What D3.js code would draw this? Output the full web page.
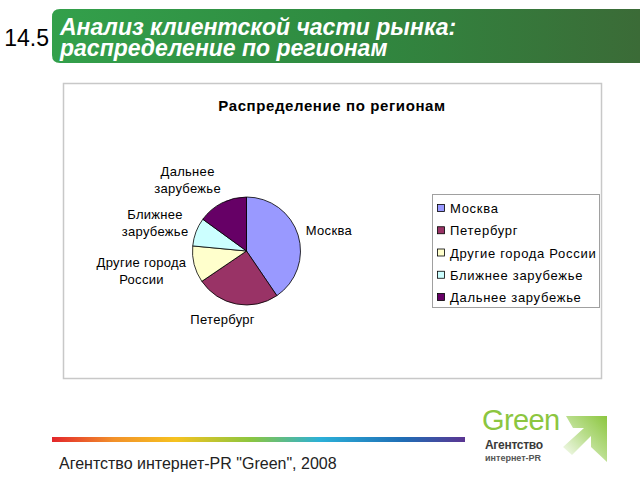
<!DOCTYPE html>
<html><head><meta charset="utf-8">
<script src="https://cdn.jsdelivr.net/npm/d3@7"></script>
<style>html,body{margin:0;padding:0;background:#fff;}svg{display:block;}</style>
</head><body>
<script>
// ---- data ----
const categories = ["Москва", "Петербург", "Другие города России", "Ближнее зарубежье", "Дальнее зарубежье"];
const values = [40.5, 25, 11, 8.5, 15];
const pieLabels = [["Москва"], ["Петербург"], ["Другие города", "России"], ["Ближнее", "зарубежье"], ["Дальнее", "зарубежье"]];
const colors = ["#9999FF", "#993366", "#FFFFCC", "#CCFFFF", "#660066"];
const chartTitle = "Распределение по регионам";
const headerLines = ["Анализ клиентской части рынка:", "распределение по регионам"];
const slideNumber = "14.5";
const footerText = "Агентство интернет-PR \"Green\", 2008";

const W = 640, H = 480;
const svg = d3.select("body").append("svg").attr("width", W).attr("height", H);
const defs = svg.append("defs");
const font = "'Liberation Sans', Arial, sans-serif";

// ---- header ----
const hg = defs.append("linearGradient").attr("id", "hg").attr("x1", 0).attr("x2", 1).attr("y1", 0).attr("y2", 0);
hg.append("stop").attr("offset", 0).attr("stop-color", "#33a04b");
hg.append("stop").attr("offset", 0.5).attr("stop-color", "#2f8a40");
hg.append("stop").attr("offset", 1).attr("stop-color", "#3b6b37");
svg.append("path")
  .attr("d", "M60,9 H640 V63 H60 Q52,63 52,55 V17 Q52,9 60,9 Z")
  .attr("fill", "url(#hg)");
svg.append("text").attr("x", 49).attr("y", 46).attr("text-anchor", "end")
  .attr("font-family", font).attr("font-size", 23).attr("fill", "#000").text(slideNumber);
const ht = svg.append("text")
  .attr("font-family", font).attr("font-size", 23).attr("font-weight", "bold").attr("font-style", "italic")
  .attr("fill", "#fff");
headerLines.forEach((s, i) => ht.append("tspan").attr("x", 60).attr("y", 35 + i * 21).text(s));

// ---- chart frame ----
svg.append("rect").attr("x", 63.5).attr("y", 83.5).attr("width", 538).attr("height", 295)
  .attr("fill", "#fff").attr("stroke", "#c8c8c8").attr("stroke-width", 1.5);
svg.append("text").attr("x", 332).attr("y", 111).attr("text-anchor", "middle")
  .attr("font-family", font).attr("font-size", 15).attr("font-weight", "bold").attr("letter-spacing", 0.6)
  .attr("fill", "#000").text(chartTitle);

// ---- pie ----
const cx = 246.5, cy = 251, R = 54;
const pie = d3.pie().sort(null).value(d => d)(values);
const arc = d3.arc().innerRadius(0).outerRadius(R);
const color = d3.scaleOrdinal().domain(categories).range(colors);
const gp = svg.append("g").attr("transform", `translate(${cx},${cy})`);
gp.selectAll("path").data(pie).join("path")
  .attr("d", arc).attr("fill", (d, i) => color(categories[i]))
  .attr("stroke", "#000").attr("stroke-width", 0.8).attr("stroke-linejoin", "round");

// labels
const LR = 61, lh = 17, fs = 13;
const meas = svg.append("text").attr("font-family", font).attr("font-size", fs).attr("letter-spacing", 0.3).attr("visibility", "hidden");
function tw(s) { meas.text(s); return meas.node().getComputedTextLength(); }
pie.forEach((d, i) => {
  const a = (d.startAngle + d.endAngle) / 2;
  const ux = Math.sin(a), uy = -Math.cos(a);
  const px = cx + LR * ux, py = cy + LR * uy;
  const lines = pieLabels[i];
  const w = d3.max(lines, tw) + 2, h = lines.length * lh;
  const m = Math.max(Math.abs(ux), Math.abs(uy));
  const bx = px + (w / 2) * Math.sign(ux) * Math.min(1, Math.abs(ux) / 0.5);
  const by = py + (h / 2) * uy / m;
  const t = svg.append("text").attr("font-family", font).attr("font-size", fs).attr("fill", "#000")
    .attr("letter-spacing", 0.3).attr("text-anchor", "middle");
  lines.forEach((s, j) => {
    t.append("tspan").attr("x", bx).attr("y", by - h / 2 + lh * j + 13).text(s);
  });
});
meas.remove();

// ---- legend ----
const lg = svg.append("g");
lg.append("rect").attr("x", 432.5).attr("y", 194.5).attr("width", 167).attr("height", 113)
  .attr("fill", "#fff").attr("stroke", "#a0a0a0").attr("stroke-width", 1);
const ly = d3.scalePoint().domain(categories).range([208, 297]);
const items = lg.selectAll("g.it").data(categories).join("g").attr("class", "it")
  .attr("transform", d => `translate(437,${ly(d)})`);
items.append("rect").attr("x", 0.5).attr("y", -3.5).attr("width", 7).attr("height", 7)
  .attr("fill", d => color(d)).attr("stroke", "#000").attr("stroke-width", 0.8);
items.append("text").attr("x", 13).attr("y", 5).attr("font-family", font).attr("font-size", 13)
  .attr("letter-spacing", 0.7).attr("fill", "#000").text(d => d);

// ---- footer ----
const rg = defs.append("linearGradient").attr("id", "rg").attr("x1", 0).attr("x2", 1).attr("y1", 0).attr("y2", 0);
[["#e3262b", 0], ["#f2912a", 0.15], ["#f6c21f", 0.3], ["#8cc63f", 0.48], ["#2bb0d8", 0.65], ["#1f6db5", 0.85], ["#5b3592", 1]]
  .forEach(([c, o]) => rg.append("stop").attr("offset", o).attr("stop-color", c));
svg.append("rect").attr("x", 52).attr("y", 437).attr("width", 413).attr("height", 5).attr("fill", "url(#rg)");
svg.append("text").attr("x", 59).attr("y", 469).attr("font-family", font).attr("font-size", 16)
  .attr("fill", "#222").text(footerText);

// ---- logo ----
const ag = defs.append("linearGradient").attr("id", "ag").attr("x1", 0).attr("x2", 1).attr("y1", 1).attr("y2", 0);
ag.append("stop").attr("offset", 0).attr("stop-color", "#ffffff");
ag.append("stop").attr("offset", 0.55).attr("stop-color", "#b8dd8a");
ag.append("stop").attr("offset", 1).attr("stop-color", "#8cc63f");
svg.append("path").attr("d", "M566,416 H607 V462 L591,447 V436 L572,455 L563,447 L584,428 H573 Z")
  .attr("fill", "url(#ag)");
svg.append("text").attr("x", 482).attr("y", 430).attr("font-family", font).attr("font-size", 29)
  .attr("fill", "#8cc63f").attr("letter-spacing", -0.6).text("Green");
svg.append("text").attr("x", 485).attr("y", 449).attr("font-family", font).attr("font-size", 12)
  .attr("font-weight", "bold").attr("fill", "#3a3a3a").attr("letter-spacing", -0.3).text("Агентство");
svg.append("text").attr("x", 485).attr("y", 461).attr("font-family", font).attr("font-size", 9)
  .attr("font-weight", "bold").attr("fill", "#555").text("интернет-PR");
</script>
</body></html>
